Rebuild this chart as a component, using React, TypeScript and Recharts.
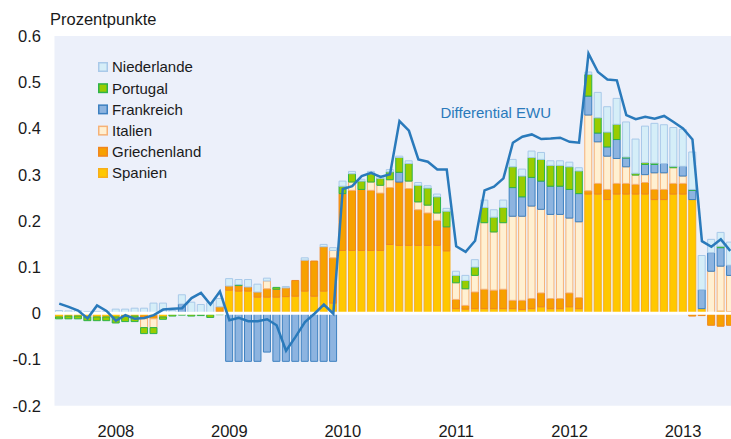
import React from 'react';
import { ComposedChart, Bar, Line, XAxis, YAxis, CartesianGrid, ReferenceLine, Customized } from 'recharts';

const months: string[] = [
  '2007-07','2007-08','2007-09','2007-10','2007-11','2007-12',
  '2008-01','2008-02','2008-03','2008-04','2008-05','2008-06','2008-07','2008-08','2008-09','2008-10','2008-11','2008-12',
  '2009-01','2009-02','2009-03','2009-04','2009-05','2009-06','2009-07','2009-08','2009-09','2009-10','2009-11','2009-12',
  '2010-01','2010-02','2010-03','2010-04','2010-05','2010-06','2010-07','2010-08','2010-09','2010-10','2010-11','2010-12',
  '2011-01','2011-02','2011-03','2011-04','2011-05','2011-06','2011-07','2011-08','2011-09','2011-10','2011-11','2011-12',
  '2012-01','2012-02','2012-03','2012-04','2012-05','2012-06','2012-07','2012-08','2012-09','2012-10','2012-11','2012-12',
  '2013-01','2013-02','2013-03','2013-04','2013-05','2013-06',
];

const spanien: number[] = [
  -0.008,-0.006,-0.006,-0.008,-0.008,-0.008,
  -0.008,-0.006,-0.006,-0.006,-0.006,-0.008,-0.002,0,-0.002,-0.002,-0.003,0.003,
  0.050,0.048,0.048,0.035,0.035,0.035,0.036,0.037,0.048,0.037,0.048,0.022,
  0.136,0.136,0.136,0.136,0.136,0.149,0.147,0.147,0.147,0.147,0.147,0.135,
  0.010,0.009,0.010,0.010,0.010,0.010,0.010,0.008,0.010,0.014,0.010,0.010,
  0.014,0.010,0.258,0.258,0.246,0.258,0.258,0.258,0.258,0.246,0.246,0.258,
  0.258,0.246,0.010,0,0.005,0.004,
];

const griechenland: number[] = [
  0,0,0,0,0,0,
  0,0,0,-0.006,-0.006,0,0,0,0.002,0,0,0.011,
  0.009,0.012,0.009,0.011,0.018,0.017,0.019,0.034,0.067,0.076,0.096,0.098,
  0.123,0.130,0.132,0.130,0.124,0.123,0.137,0.123,0.077,0.070,0.054,0.052,
  0.020,0.008,0.036,0.042,0.040,0.042,0.018,0.020,0.022,0.030,0.022,0.022,
  0.030,0.024,0.007,0.023,0.022,0.023,0.023,0.021,0.025,0.022,0.022,0.023,
  0.023,-0.006,-0.005,-0.026,-0.028,-0.026,
];

const italien: number[] = [
  0,0,0,0,0,0,
  0,0,0,-0.019,-0.019,0,0,0,0,0,0,0,
  0,0,0,0,0.017,0,0,0,0,0,0,0.016,
  0,0.018,0,0.018,0.017,0.017,0,0.016,0.017,0.017,0.016,0,
  0.036,0.036,0.036,0.144,0.126,0.144,0.182,0.182,0.200,0.181,0.182,0.182,
  0.162,0.164,0.164,0.090,0.072,0.054,0.036,0.020,0.017,0.036,0.036,0.034,
  0.016,0,0,0.091,0.097,0.078,
];

const frankreich: number[] = [
  0,0,0,0,0,0,
  0,0,0,0,0,0,0,0.020,0,0,0,0,
  -0.104,-0.104,-0.104,-0.104,-0.084,-0.104,-0.104,-0.104,-0.104,-0.104,-0.104,-0.104,
  0,0,0,0,0,0,0.021,0,0,0,0,0,
  0,0,0,0,0,0,0.062,0.042,0.062,0.061,0.061,0.061,
  0.062,0.061,0.041,0.019,0.020,0.041,0.019,0,0.022,0.018,0.020,0,
  0.021,0.020,0.041,0.040,0.040,0.022,
];

const portugal: number[] = [
  -0.004,-0.006,-0.006,-0.008,-0.008,-0.008,
  -0.013,-0.012,-0.012,-0.013,-0.013,-0.005,-0.004,-0.004,-0.004,-0.003,-0.006,-0.003,
  0,0.002,0,0,0,0.004,0,0,0,0,0,0,
  0.016,0.018,0.018,0.018,0.015,0.017,0.032,0.038,0.036,0.037,0.035,0.034,
  0.016,0.018,0.018,0.033,0.032,0.033,0.045,0.045,0.043,0.047,0.045,0.045,
  0.049,0.049,0.047,0.033,0.032,0.033,0.002,0.004,0.004,0.003,0,0.003,
  0,0.002,0,0,0.003,0,
];

const niederlande: number[] = [
  0.006,0.005,0.006,0.004,0.004,0.004,
  0.009,0.009,0.011,0.011,0.022,0.022,0.006,0.020,0.022,0.019,0.023,0.018,
  0.016,0.011,0.016,0.017,0.006,0,0.003,0,0.005,0,0.005,0.006,
  0.011,0.005,0.004,0.005,0.005,0.005,0.003,0.006,0.006,0.005,0.006,0.006,
  0.009,0.011,0.016,0.016,0.016,0.016,0.016,0.015,0.014,0.015,0.010,0.010,
  0.010,0.007,0.005,0.055,0.055,0.056,0.076,0.074,0.079,0.086,0.084,0.084,
  0.080,0.081,0.074,0.029,0.030,0.050,
];

const differential: number[] = [
  0.021,0.014,0.006,-0.011,0.017,0.005,
  -0.016,-0.004,-0.012,-0.010,-0.004,0.008,0.010,0.011,0.033,0.044,0.019,0.047,
  -0.015,-0.010,-0.017,-0.017,-0.013,-0.026,-0.081,-0.051,-0.019,-0.001,0.019,-0.001,
  0.269,0.275,0.297,0.304,0.295,0.301,0.416,0.395,0.333,0.328,0.311,0.311,
  0.145,0.133,0.157,0.266,0.274,0.292,0.369,0.382,0.387,0.377,0.378,0.380,
  0.371,0.369,0.562,0.522,0.506,0.504,0.429,0.420,0.425,0.421,0.427,0.414,
  0.400,0.376,0.156,0.144,0.160,0.135,
];

const yTicks: number[] = [-0.2, -0.1, 0, 0.1, 0.2, 0.3, 0.4, 0.5, 0.6];
const yTickLabels: string[] = ['-0.2', '-0.1', '0', '0.1', '0.2', '0.3', '0.4', '0.5', '0.6'];

const legendNames: string[] = ['Niederlande', 'Portugal', 'Frankreich', 'Italien', 'Griechenland', 'Spanien'];

const COLORS: Record<string, { fill: string; stroke: string }> = {
  Spanien: { fill: '#FFC800', stroke: '#F7AE1A' },
  Griechenland: { fill: '#F7A100', stroke: '#F0861E' },
  Italien: { fill: '#FFF0D2', stroke: '#F6B277' },
  Frankreich: { fill: '#8DB4E0', stroke: '#3D80C0' },
  Portugal: { fill: '#99CC00', stroke: '#2DB34A' },
  Niederlande: { fill: '#D5EEF8', stroke: '#A9C9E9' },
};
const LINE_COLOR = '#2A7ABB';
const FONT = '"Liberation Sans", Arial, sans-serif';

const data = months.map((m, i) => ({
  m,
  Spanien: spanien[i],
  Griechenland: griechenland[i],
  Italien: italien[i],
  Frankreich: frankreich[i],
  Portugal: portugal[i],
  Niederlande: niederlande[i],
  Differential: differential[i],
}));

const stackOrder = ['Spanien', 'Griechenland', 'Italien', 'Frankreich', 'Portugal', 'Niederlande'];

const XTick = (props: any) => {
  const { x, payload } = props;
  const v: string = payload.value;
  if (!v.endsWith('-01')) return null;
  return (
    <text x={x} y={437} textAnchor="middle" fontFamily={FONT} fontSize={16.5} fill="#1a1a1a">
      {v.slice(0, 4)}
    </text>
  );
};

const YTick = (props: any) => {
  const { y, payload } = props;
  const idx = yTicks.findIndex((t) => Math.abs(t - payload.value) < 1e-9);
  const label = idx >= 0 ? yTickLabels[idx] : String(payload.value);
  return (
    <text x={41} y={y + 6} textAnchor="end" fontFamily={FONT} fontSize={16.5} fill="#1a1a1a">
      {label}
    </text>
  );
};

const Overlay = () => (
  <g>
    <text x={50} y={25} fontFamily={FONT} fontSize={16.5} fill="#1a1a1a">Prozentpunkte</text>
    {legendNames.map((n, i) => {
      const cy = 67 + i * 21.2;
      return (
        <g key={n}>
          <rect x={98.75} y={cy - 4.25} width={8.5} height={8.5} fill={COLORS[n].fill} stroke={COLORS[n].stroke} strokeWidth={1.5} />
          <text x={112} y={cy + 5.4} fontFamily={FONT} fontSize={15} fill="#1a1a1a">{n}</text>
        </g>
      );
    })}
    <text x={551} y={117.5} textAnchor="end" fontFamily={FONT} fontSize={15} fill={LINE_COLOR}>Differential EWU</text>
  </g>
);

export default function App() {
  return (
    <div style={{ position: 'absolute', left: 0, top: 0, width: 731, height: 439, overflow: 'hidden', background: '#fff' }}>
      <ComposedChart
        width={735}
        height={439}
        data={data}
        stackOffset="sign"
        margin={{ top: 36, right: 0, bottom: 3.3, left: 0 }}
        barSize={7}
      >
        <CartesianGrid horizontal={false} vertical={false} fill="#ECF0FA" stroke="none" />
        <XAxis dataKey="m" interval={0} axisLine={false} tickLine={false} height={30} tick={<XTick />} />
        <YAxis
          type="number"
          domain={[-0.2, 0.6]}
          ticks={yTicks}
          axisLine={false}
          tickLine={false}
          width={54.5}
          tick={<YTick />}
          allowDataOverflow
        />
        {stackOrder.map((k) => (
          <Bar key={k} dataKey={k} stackId="a" fill={COLORS[k].fill} stroke={COLORS[k].stroke} strokeWidth={1} isAnimationActive={false} />
        ))}
        <ReferenceLine y={0} stroke="#ffffff" strokeWidth={3} />
        <Line dataKey="Differential" type="linear" stroke={LINE_COLOR} strokeWidth={2.5} dot={false} isAnimationActive={false} />
        <Customized component={Overlay} />
      </ComposedChart>
    </div>
  );
}
